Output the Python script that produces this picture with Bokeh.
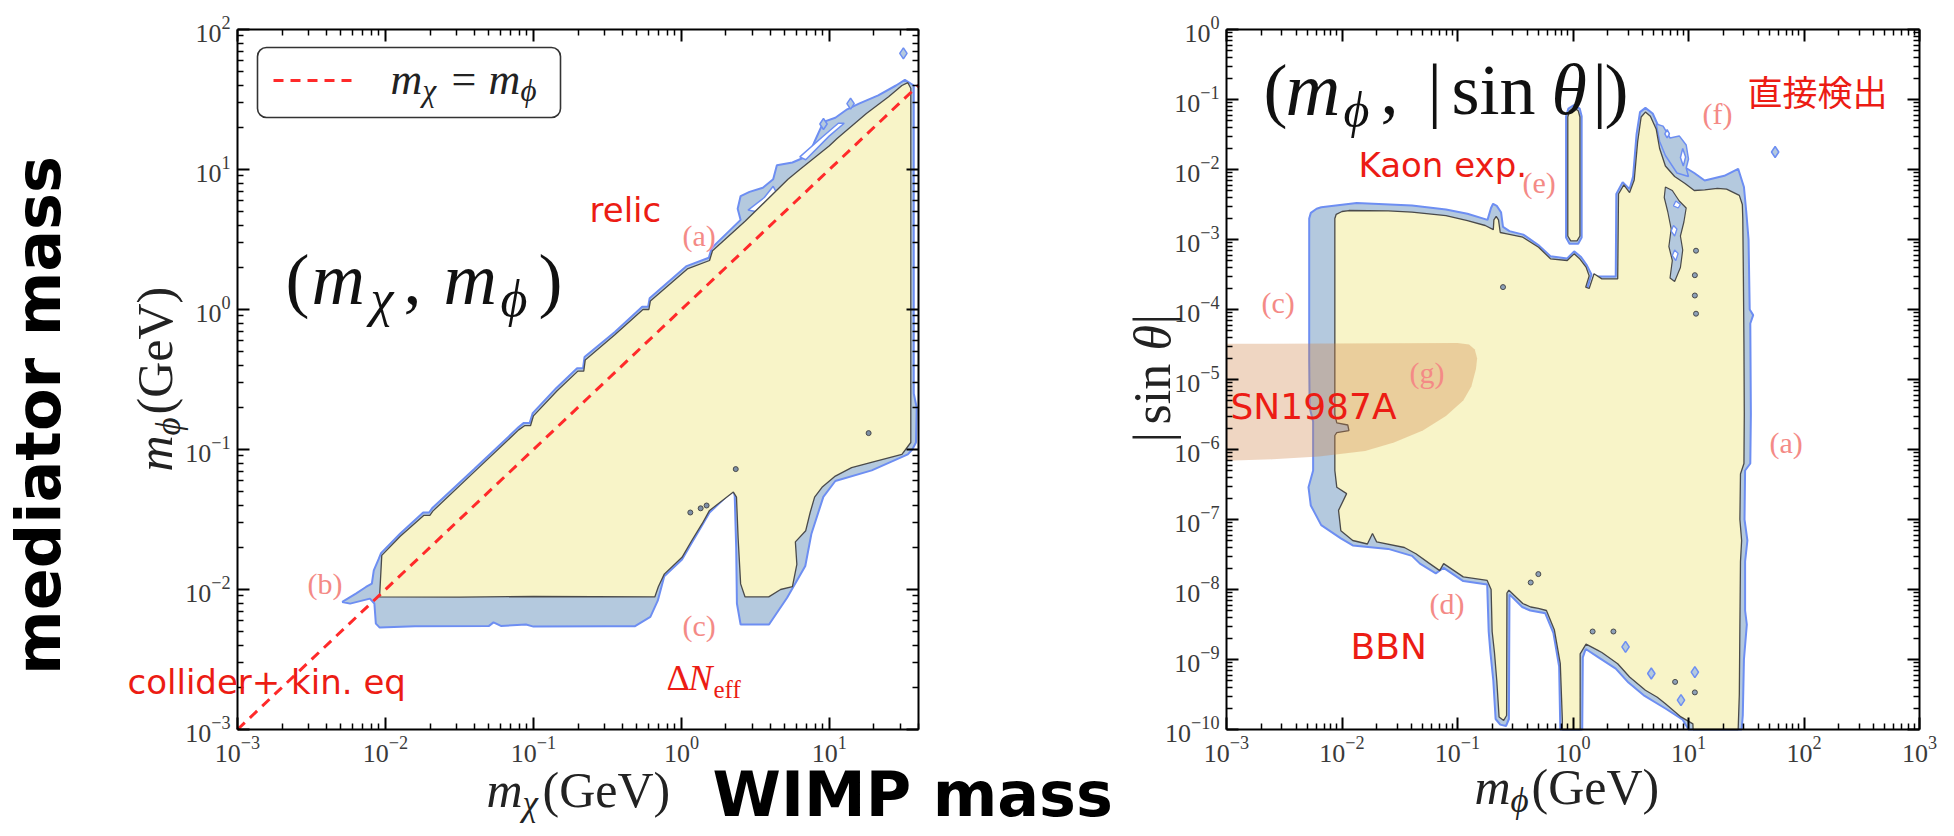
import numpy as np
from bokeh.plotting import figure
from bokeh.models import Range1d, LogAxis, FixedTicker, Label, BoxAnnotation, CustomJSTickFormatter
from bokeh.layouts import row
from bokeh.embed import file_html
from bokeh.resources import INLINE

# ------------------------------------------------------------------
# DATA (contours, stored as log10 values)
# ------------------------------------------------------------------
# left panel: (m_chi, m_phi)
L_YEL_LX = [-2.04, -2.025, -1.90, -1.74, -1.70, -1.68, -1.40, -1.10, -1.06, -1.02, -1.00, -0.84, -0.70, -0.66, -0.65,
            -0.45, -0.26, -0.22, -0.21, 0.04, 0.19, 0.21, 0.43, 0.72, 0.80, 1.00, 1.05, 1.25, 1.40, 1.49, 1.53, 1.55,
            1.55, 1.49, 1.29, 1.15, 1.04, 0.95, 0.90, 0.87, 0.84, 0.77, 0.78, 0.75, 0.67, 0.59, 0.43, 0.40, 0.383,
            0.372, 0.351, 0.19, 0.14, 0.07, 0.004, -0.116, -0.156, -0.18, -1.0, -1.5]
L_YEL_LY = [-2.053, -1.756, -1.62, -1.47, -1.47, -1.44, -1.16, -0.86, -0.83, -0.83, -0.76, -0.58, -0.44, -0.44, -0.36,
            -0.18, 0.00, 0.00, 0.06, 0.29, 0.35, 0.42, 0.63, 0.93, 1.00, 1.17, 1.22, 1.40, 1.52, 1.60, 1.62, 1.58,
            -0.95, -1.035, -1.09, -1.13, -1.19, -1.27, -1.34, -1.45, -1.58, -1.66, -1.82, -1.98, -2.00, -2.053, -2.053,
            -1.96, -1.63, -1.34, -1.304, -1.435, -1.53, -1.65, -1.77, -1.89, -1.98, -2.053, -2.05, -2.055]

L_BLU_LX = [-2.292, -2.20, -2.132, -2.092, -2.079, -2.045, -2.03, -1.90, -1.745, -1.705, -1.685, -1.40, -1.10, -1.065,
            -1.025, -1.005, -0.845, -0.705, -0.665, -0.655, -0.45, -0.265, -0.225, -0.215, 0.035, 0.185, 0.205, 0.40,
            0.38, 0.40, 0.46, 0.55, 0.62, 0.645, 0.75, 0.86, 0.90, 0.96, 1.04, 1.12, 1.20, 1.33, 1.45, 1.51, 1.57,
            1.57, 1.59, 1.585, 1.56, 1.53, 1.408, 1.286, 1.04, 0.959, 0.878, 0.837, 0.714, 0.592, 0.40, 0.375, 0.37,
            0.36, 0.35, 0.19, 0.138, 0.071, 0.004, -0.116, -0.16, -0.21, -0.316, -0.5, -1.0, -1.05, -1.22, -1.27,
            -1.30, -1.8, -2.039, -2.065, -2.075, -2.105, -2.239]
L_BLU_LY = [-2.089, -2.03, -1.982, -1.958, -1.863, -1.78, -1.74, -1.60, -1.45, -1.45, -1.42, -1.14, -0.84, -0.81,
            -0.81, -0.74, -0.56, -0.42, -0.42, -0.34, -0.16, 0.02, 0.02, 0.08, 0.31, 0.37, 0.44, 0.64,
            0.72, 0.81, 0.84, 0.87, 0.93, 1.03, 1.05, 1.10, 1.20, 1.34, 1.37, 1.43, 1.47, 1.53, 1.60, 1.64, 1.60,
            -0.6, -0.7, -0.95, -1.0, -1.035, -1.092, -1.149, -1.225, -1.338, -1.604, -1.832, -2.059, -2.25, -2.25, -2.1,
            -1.7, -1.33, -1.29, -1.45, -1.545, -1.665, -1.785, -1.905, -2.08, -2.196, -2.263, -2.263, -2.265, -2.25,
            -2.26, -2.235, -2.26, -2.262, -2.272, -2.244, -2.10, -2.065, -2.101]

L_HOLE1_LX = [0.45, 0.56, 0.62, 0.64, 0.58, 0.50]
L_HOLE1_LY = [0.71, 0.80, 0.88, 0.84, 0.77, 0.70]
L_HOLE2_LX = [0.80, 0.95, 1.06, 1.10, 1.00, 0.84]
L_HOLE2_LY = [1.09, 1.23, 1.33, 1.33, 1.24, 1.07]
L_BLOB_LX = [1.50, 1.143, 0.96]
L_BLOB_LY = [1.83, 1.47, 1.325]
L_DOT_LX = [1.265, 0.367, 0.06, 0.13, 0.17]
L_DOT_LY = [-0.883, -1.14, -1.45, -1.42, -1.40]
DIAG = [1e-3, 40.0]   # m_chi = m_phi

# right panel: (m_phi, |sin theta|)
R_YEL_LX = [-2.062, -2.05, -2.00, -1.94, -1.60, -1.394, -1.10, -0.914, -0.76, -0.69, -0.685, -0.665, -0.645, -0.63,
            -0.572, -0.435, -0.298, -0.195, -0.05, 0.01, 0.06, 0.113, 0.14, 0.11, 0.14, 0.182, 0.25, 0.387, 0.394,
            0.44, 0.49, 0.53, 0.56, 0.59, 0.627, 0.67, 0.72, 0.75, 0.80, 0.88, 0.97, 1.05, 1.14, 1.25, 1.33, 1.44,
            1.466, 1.47, 1.475, 1.48, 1.483, 1.48, 1.45, 1.445, 1.46, 1.45, 1.445, 1.44, 1.43, 1.04, 1.038, 0.935,
            0.798, 0.73, 0.627, 0.49, 0.387, 0.25, 0.216, 0.113, 0.062, 0.062, -0.092, -0.092, -0.11, -0.161, -0.23,
            -0.30, -0.366, -0.435, -0.555, -0.572, -0.575, -0.60, -0.64, -0.66, -0.68, -0.70, -0.709, -0.743, -0.95,
            -1.12, -1.154, -1.25, -1.36, -1.46, -1.70, -1.736, -1.78, -1.907, -2.01, -2.03, -1.96, -2.045, -2.062,
            -2.062, -2.045, -1.94, -1.95, -2.045, -2.062]
R_YEL_LY = [-2.70, -2.64, -2.60, -2.586, -2.59, -2.61, -2.66, -2.729, -2.80, -2.86, -2.72, -2.67, -2.72, -2.90,
            -2.919, -2.967, -3.11, -3.276, -3.30, -3.205, -3.28, -3.395, -3.52, -3.68, -3.70, -3.49, -3.562, -3.562,
            -2.35, -2.22, -2.33, -2.15, -1.6, -1.25, -1.18, -1.24, -1.42, -1.7, -1.95, -2.1, -2.2, -2.3, -2.29, -2.27,
            -2.28, -2.37, -2.5, -2.7, -3.5, -4.5, -5.5, -6.2, -6.35, -7.0, -7.3, -7.6, -8.5, -9.5, -10.0, -10.0,
            -9.92, -9.82, -9.63, -9.54, -9.44, -9.25, -9.06, -8.9, -8.87, -8.78, -8.92, -10.0, -10.0, -9.87, -9.06,
            -8.58, -8.30, -8.27, -8.25, -8.2, -8.01, -8.05, -9.80, -9.87, -9.82, -9.3, -8.9, -8.6, -8.0, -7.87, -7.82,
            -7.63, -7.73, -7.62, -7.49, -7.40, -7.32, -7.20, -7.35, -7.30, -7.16, -6.87, -6.63, -6.54, -6.30, -5.80,
            -5.76, -5.73, -5.65, -5.62, -5.5]

R_BLU_LX = [-2.284, -2.27, -2.22, -2.18, -1.873, -1.394, -1.10, -0.914, -0.74, -0.71, -0.692, -0.66, -0.623, -0.606,
            -0.55, -0.43, -0.30, -0.195, -0.05, 0.01, 0.07, 0.12, 0.16, 0.12, 0.15, 0.19, 0.25, 0.37, 0.375, 0.43,
            0.49, 0.52, 0.55, 0.58, 0.627, 0.69, 0.75, 0.78, 0.80, 0.86, 0.95, 1.05, 1.14, 1.31, 1.43, 1.48, 1.50,
            1.52, 1.53, 1.56, 1.535, 1.54, 1.535, 1.49, 1.485, 1.51, 1.49, 1.49, 1.505, 1.48, 1.47, 1.46, 1.0, 0.95,
            0.80, 0.62, 0.48, 0.37, 0.22, 0.11, 0.085, 0.08, -0.11, -0.12, -0.17, -0.24, -0.37, -0.44, -0.55, -0.555,
            -0.58, -0.63, -0.67, -0.69, -0.715, -0.73, -0.743, -0.95, -1.12, -1.188, -1.325, -1.394, -1.6, -1.907,
            -2.01, -2.18, -2.27, -2.29, -2.25, -2.25, -2.28, -2.284]
R_BLU_LY = [-2.70, -2.62, -2.56, -2.54, -2.48, -2.514, -2.57, -2.633, -2.72, -2.55, -2.49, -2.52, -2.61, -2.82,
            -2.88, -2.93, -3.08, -3.24, -3.27, -3.17, -3.25, -3.37, -3.50, -3.72, -3.74, -3.53, -3.53, -3.53, -2.35,
            -2.18, -2.28, -2.1, -1.5, -1.18, -1.12, -1.2, -1.42, -1.55, -1.75, -1.9, -1.95, -2.05, -2.157, -2.09,
            -1.99, -2.25, -2.6, -3.0, -4.0, -4.08, -4.2, -5.5, -6.2, -6.3, -7.0, -7.3, -7.6, -8.3, -8.5, -9.0, -9.8,
            -10.0, -10.0, -9.86, -9.70, -9.52, -9.33, -9.13, -8.97, -8.85, -8.97, -10.0, -10.0, -9.1, -8.62, -8.34,
            -8.30, -8.25, -8.07, -9.85, -9.95, -9.93, -9.85, -9.3, -8.9, -8.6, -7.93, -7.88, -7.69, -7.77, -7.63,
            -7.52, -7.42, -7.37, -7.27, -7.08, -6.8, -6.54, -6.3, -5.6, -5.4, -4.73]

R_FBLOB_LX = [0.72, 0.78, 0.84, 0.92, 0.98, 1.0, 0.98, 1.0, 0.9, 0.8, 0.75]
R_FBLOB_LY = [-1.35, -1.38, -1.55, -1.52, -1.65, -1.85, -1.98, -2.1, -2.05, -1.8, -1.6]
R_FHOLE1_LX = [0.815, 0.835, 0.815, 0.795]
R_FHOLE1_LY = [-1.43, -1.49, -1.55, -1.49]
R_FHOLE2_LX = [0.95, 0.975, 0.955, 0.93]
R_FHOLE2_LY = [-1.70, -1.82, -1.95, -1.83]

R_E_YEL_LX = [-0.045, -0.045, -0.03, 0.008, 0.045, 0.06, 0.06, 0.035, -0.02]
R_E_YEL_LY = [-2.95, -1.25, -1.16, -1.12, -1.16, -1.25, -2.95, -3.02, -3.02]
R_E_BLU_LX = [-0.06, -0.06, -0.04, 0.008, 0.058, 0.075, 0.075, 0.045, -0.03]
R_E_BLU_LY = [-2.97, -1.24, -1.13, -1.08, -1.13, -1.24, -2.97, -3.06, -3.06]

R_STRIP_LX = [0.80, 0.86, 0.92, 0.98, 0.96, 0.93, 0.95, 0.93, 0.88, 0.84, 0.86, 0.83, 0.85, 0.82, 0.79]
R_STRIP_LY = [-2.25, -2.3, -2.45, -2.55, -2.75, -2.95, -3.15, -3.4, -3.6, -3.55, -3.3, -3.1, -2.85, -2.6, -2.4]
R_SHOLES_LX = [[0.89, 0.93, 0.91, 0.87], [0.87, 0.90, 0.88, 0.85], [0.88, 0.91, 0.89, 0.86]]
R_SHOLES_LY = [[-2.45, -2.5, -2.55, -2.52], [-2.8, -2.85, -2.95, -2.88], [-3.15, -3.2, -3.3, -3.23]]

R_BLOB_LX = [1.75, 0.678, 1.055, 0.935, 0.455]
R_BLOB_LY = [-1.75, -9.2, -9.18, -9.58, -8.82]
R_DOT_LX = [-0.606, 1.055, 1.055, 1.065, 1.065, 0.884, 1.055, -0.366, -0.30, 0.17, 0.35]
R_DOT_LY = [-3.68, -3.51, -3.8, -4.06, -3.16, -9.32, -9.47, -7.9, -7.78, -8.6, -8.6]

SN_LX = [-3.0, -1.0, -0.90, -0.85, -0.83, -0.84, -0.88, -0.95, -1.1, -1.3, -1.55, -1.8, -2.2, -2.6, -3.0]
SN_LY = [-4.49, -4.48, -4.50, -4.57, -4.7, -4.85, -5.1, -5.3, -5.52, -5.73, -5.9, -6.02, -6.1, -6.14, -6.16]

# axes
L_X_RANGE = (1e-3, 40.0)
L_Y_RANGE = (1e-3, 1e2)
R_X_RANGE = (1e-3, 1e3)
R_Y_RANGE = (1e-10, 1e0)
L_X_EXP = [-3, -2, -1, 0, 1]
L_Y_EXP = [-3, -2, -1, 0, 1, 2]
R_X_EXP = [-3, -2, -1, 0, 1, 2, 3]
R_Y_EXP = [-10, -9, -8, -7, -6, -5, -4, -3, -2, -1, 0]

# ------------------------------------------------------------------
SERIF = "Liberation Serif"
SANS = "DejaVu Sans"
CJK = "Noto Sans CJK JP"
RED = "#ec1c14"
PINK = "#f48a86"
BLUE_F = "#b4c9de"
BLUE_L = "#6d8ef2"
YEL_F = "#f8f4c8"
YEL_L = "#4a4a4a"
TICK_C = "#3a3a3a"
PAGE_H = 836
K_BASE = 0.26   # observed shift of rendered baseline, in em


def P(a):
    return list(10.0 ** np.asarray(a, dtype=float))


def minor_ticks(exps, upper):
    out = []
    for k in exps:
        for m in range(2, 10):
            v = m * 10.0 ** k
            if v <= upper * 1.0001:
                out.append(v)
    return out


class Frame:
    """Maps page pixels to data values for one panel (plot box given in page pixels)."""
    def __init__(self, x0, x1, y0, y1, xr, yr):
        self.x0, self.x1, self.y0, self.y1 = x0, x1, y0, y1
        self.lx0, self.lx1 = np.log10(xr[0]), np.log10(xr[1])
        self.ly0, self.ly1 = np.log10(yr[0]), np.log10(yr[1])

    def d(self, px, py):
        lx = self.lx0 + (px - self.x0) / (self.x1 - self.x0) * (self.lx1 - self.lx0)
        ly = self.ly1 - (py - self.y0) / (self.y1 - self.y0) * (self.ly1 - self.ly0)
        return float(10 ** lx), float(10 ** ly)


def make_fig(fr, page_left, page_right, xr, yr, xexp, yexp):
    # the whole canvas is the frame; the panel box is drawn by axes fixed at its edges
    cx0, cy0 = fr.d(page_left, PAGE_H)
    cx1, cy1 = fr.d(page_right, 0)
    p = figure(x_axis_type="log", y_axis_type="log",
               x_range=Range1d(cx0, cx1), y_range=Range1d(cy0, cy1),
               width=page_right - page_left, height=PAGE_H,
               min_border_left=0, min_border_right=0, min_border_top=0, min_border_bottom=0,
               toolbar_location=None, output_backend="svg",
               background_fill_color="white", border_fill_color="white")
    p.xgrid.visible = False
    p.ygrid.visible = False
    p.outline_line_alpha = 0
    blank = CustomJSTickFormatter(code="return '';")
    p.add_layout(LogAxis(formatter=blank), "above")
    p.add_layout(LogAxis(formatter=blank), "right")
    xt = FixedTicker(ticks=[10.0 ** k for k in xexp], minor_ticks=minor_ticks(xexp, xr[1]))
    yt = FixedTicker(ticks=[10.0 ** k for k in yexp], minor_ticks=minor_ticks(yexp, yr[1]))
    p.below[0].fixed_location = yr[0]
    p.above[0].fixed_location = yr[1]
    p.left[0].fixed_location = xr[0]
    p.right[0].fixed_location = xr[1]
    for ax in p.xaxis:
        ax.ticker = xt
        ax.bounds = xr
    for ax in p.yaxis:
        ax.ticker = yt
        ax.bounds = yr
    for ax in list(p.xaxis) + list(p.yaxis):
        ax.axis_line_width = 2
        ax.axis_line_color = "black"
        ax.major_tick_in = 12
        ax.major_tick_out = 0
        ax.minor_tick_in = 6
        ax.minor_tick_out = 0
        ax.major_tick_line_width = 2
        ax.minor_tick_line_width = 1.5
        ax.major_label_text_font = SERIF
        ax.major_label_text_font_size = "26px"
        ax.major_label_text_color = TICK_C
        ax.major_label_standoff = 7
    for ax in (p.above[0], p.right[0]):
        ax.major_label_standoff = 0
    return p


def put(p, fr, px, py, text, size, color, font, style="normal", angle=0.0, align="left", baseline="alphabetic"):
    """(px, py): wanted baseline point in page pixels."""
    if baseline == "alphabetic":
        if angle == 0.0:
            py = py - K_BASE * size
        else:
            px = px - K_BASE * size
    x, y = fr.d(px, py)
    p.add_layout(Label(x=x, y=y, text=text, text_font=font, text_font_size=f"{size}px",
                       text_color=color, text_font_style=style, angle=angle,
                       text_align=align, text_baseline=baseline))


def rich(p, fr, px, py, pieces, color, vertical=False):
    pos = 0.0
    for text, size, style, adv, drop in pieces:
        if vertical:
            put(p, fr, px + drop, py - pos, text, size, color, SERIF, style, angle=float(np.pi / 2))
        else:
            put(p, fr, px + pos, py + drop, text, size, color, SERIF, style)
        pos += adv


# ------------------------------------------------------------------
# LEFT PANEL
# ------------------------------------------------------------------
FL = Frame(237, 918, 29, 729, L_X_RANGE, L_Y_RANGE)
p1 = make_fig(FL, 0, 1125, L_X_RANGE, L_Y_RANGE, L_X_EXP, L_Y_EXP)

p1.patch(P(L_BLU_LX), P(L_BLU_LY), fill_color=BLUE_F, line_color=BLUE_L, line_width=2)
for hx, hy in ((L_HOLE1_LX, L_HOLE1_LY), (L_HOLE2_LX, L_HOLE2_LY)):
    p1.patch(P(hx), P(hy), fill_color="white", line_color=BLUE_L, line_width=1.5)
p1.patch(P(L_YEL_LX), P(L_YEL_LY), fill_color=YEL_F, line_color=YEL_L, line_width=1.3)
p1.scatter(P(L_BLOB_LX), P(L_BLOB_LY), marker="diamond", size=11, fill_color=BLUE_F, line_color=BLUE_L, line_width=1.5)
p1.scatter(P(L_DOT_LX), P(L_DOT_LY), marker="circle", size=5, fill_color="#7d8fa6", line_color=YEL_L, line_width=1)
p1.line(DIAG, DIAG, line_color="#ff2a2a", line_width=3, line_dash="10 7")

# legend
lx0, ly0 = FL.d(257, 117)
lx1, ly1 = FL.d(560, 47)
p1.add_layout(BoxAnnotation(left=lx0, right=lx1, bottom=ly0, top=ly1, fill_color="white", fill_alpha=1.0,
                            line_color="#333333", line_alpha=1.0, line_width=1.6, border_radius=9, level="underlay"))
sx0, sy0 = FL.d(273, 80)
sx1, _ = FL.d(353, 80)
p1.line([sx0, sx1], [sy0, sy0], line_color="#ff2a2a", line_width=3, line_dash="10 7")
rich(p1, FL, 390, 90, [("m", 44, "italic", 32, 0), ("χ", 31, "italic", 29, 8), ("=", 44, "normal", 37, 0),
                       ("m", 44, "italic", 32, 0), ("ϕ", 31, "italic", 19, 8)], "#222222")

# big title
rich(p1, FL, 285, 298, [("(", 72, "normal", 26, 0), ("m", 74, "italic", 59, 0), ("χ", 52, "italic", 33, 14),
                        (",", 72, "normal", 40, 0), ("m", 74, "italic", 57, 0), ("ϕ", 52, "italic", 38, 14),
                        (")", 72, "normal", 26, 0)], "#111111")

put(p1, FL, 589, 218, "relic", 34, RED, SANS)
put(p1, FL, 682, 243, "(a)", 30, PINK, SERIF)
put(p1, FL, 307, 591, "(b)", 30, PINK, SERIF)
put(p1, FL, 682, 633, "(c)", 30, PINK, SERIF)
put(p1, FL, 127, 690, "collider+ kin. eq", 34, RED, SANS)
put(p1, FL, 666, 687, "Δ", 36, RED, SERIF)
put(p1, FL, 688, 687, "N", 36, RED, SERIF, "italic")
put(p1, FL, 713, 695, "eff", 25, RED, SERIF)

# axis labels
rich(p1, FL, 486, 802, [("m", 50, "italic", 36, 0), ("χ", 35, "italic", 20, 10), ("(GeV)", 50, "normal", 128, 0)],
     "#222222")
rich(p1, FL, 167, 471, [("m", 50, "italic", 36, 0), ("ϕ", 35, "italic", 21, 10), ("(GeV)", 50, "normal", 128, 0)],
     "#222222", vertical=True)

# big outer labels
put(p1, FL, 54, 415, "mediator mass", 62, "black", SANS, "bold", angle=float(np.pi / 2), align="center")
put(p1, FL, 712, 810, "WIMP mass", 62, "black", SANS, "bold")

# ------------------------------------------------------------------
# RIGHT PANEL
# ------------------------------------------------------------------
FR = Frame(1226, 1919, 29, 729, R_X_RANGE, R_Y_RANGE)
p2 = make_fig(FR, 1125, 1954, R_X_RANGE, R_Y_RANGE, R_X_EXP, R_Y_EXP)

p2.patch(P(R_BLU_LX), P(R_BLU_LY), fill_color=BLUE_F, line_color=BLUE_L, line_width=2)
p2.patch(P(R_FBLOB_LX), P(R_FBLOB_LY), fill_color=BLUE_F, line_color=BLUE_L, line_width=1.5)
for hx, hy in ((R_FHOLE1_LX, R_FHOLE1_LY), (R_FHOLE2_LX, R_FHOLE2_LY)):
    p2.patch(P(hx), P(hy), fill_color="white", line_color=BLUE_L, line_width=1.5)
p2.patch(P(R_YEL_LX), P(R_YEL_LY), fill_color=YEL_F, line_color=YEL_L, line_width=1.3)
p2.patch(P(R_E_BLU_LX), P(R_E_BLU_LY), fill_color=BLUE_F, line_color=BLUE_L, line_width=2)
p2.patch(P(R_E_YEL_LX), P(R_E_YEL_LY), fill_color=YEL_F, line_color=YEL_L, line_width=1.3)
p2.patch(P(R_STRIP_LX), P(R_STRIP_LY), fill_color=BLUE_F, line_color=YEL_L, line_width=1.2)
for hx, hy in zip(R_SHOLES_LX, R_SHOLES_LY):
    p2.patch(P(hx), P(hy), fill_color="white", line_color=BLUE_L, line_width=1.3)
p2.scatter(P(R_BLOB_LX), P(R_BLOB_LY), marker="diamond", size=11, fill_color=BLUE_F, line_color=BLUE_L,
           line_width=1.5)
p2.scatter(P(R_DOT_LX), P(R_DOT_LY), marker="circle", size=5, fill_color="#8da0b8", line_color=YEL_L, line_width=1)
p2.patch(P(SN_LX), P(SN_LY), fill_color="#cc7e40", fill_alpha=0.32, line_alpha=0)

rich(p2, FR, 1263, 108, [("(", 72, "normal", 22, 0), ("m", 76, "italic", 58, 0), ("ϕ", 50, "italic", 37, 14),
                         (",", 72, "normal", 47, 0), ("|", 72, "normal", 24, 0), ("sin", 72, "normal", 100, 0),
                         ("θ", 72, "italic", 41, 0), ("|", 72, "normal", 12, 0), (")", 72, "normal", 25, 0)],
     "#111111")

put(p2, FR, 1358, 173, "Kaon exp.", 34, RED, SANS)
put(p2, FR, 1522, 190, "(e)", 30, PINK, SERIF)
put(p2, FR, 1702, 121, "(f)", 30, PINK, SERIF)
put(p2, FR, 1747, 90, "直接検出", 35, RED, CJK, baseline="middle")
put(p2, FR, 1261, 310, "(c)", 30, PINK, SERIF)
put(p2, FR, 1409, 380, "(g)", 30, PINK, SERIF)
put(p2, FR, 1230, 415, "SN1987A", 36, RED, SANS)
put(p2, FR, 1769, 450, "(a)", 30, PINK, SERIF)
put(p2, FR, 1429, 611, "(d)", 30, PINK, SERIF)
put(p2, FR, 1350, 655, "BBN", 36, RED, SANS)

rich(p2, FR, 1474, 799, [("m", 50, "italic", 36, 0), ("ϕ", 35, "italic", 21, 10), ("(GeV)", 50, "normal", 128, 0)],
     "#222222")
rich(p2, FR, 1166, 442, [("|", 52, "normal", 18, 0), ("sin", 52, "normal", 74, 0), ("θ", 52, "italic", 26, 0),
                         ("|", 52, "normal", 10, 0)], "#222222", vertical=True)

layout = row(p1, p2)
open("out.html", "w").write(file_html(layout, INLINE))
